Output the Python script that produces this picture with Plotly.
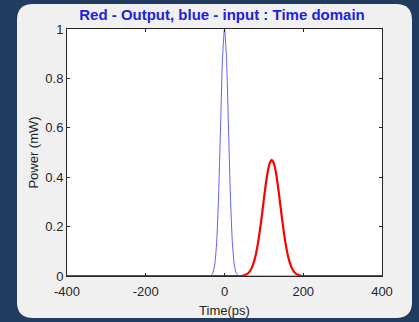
import plotly.graph_objects as go

# Input pulse (blue)
t_in = [-400, -45, -40, -35, -30, -25, -20, -15, -10, -5, 0, 5, 10, 15, 20, 25, 30, 35, 40, 45, 400]
p_in = [0, 0, 0, 0.002, 0.011, 0.044, 0.135, 0.325, 0.607, 0.882, 1.0, 0.882, 0.607, 0.325, 0.135, 0.044, 0.011, 0.002, 0, 0, 0]

# Output pulse (red)
t_out = [-400, 35, 40, 45, 50, 55, 60, 65, 70, 75, 80, 85, 90, 95, 100, 105, 110, 115, 120, 125, 130, 135,
         140, 145, 150, 155, 160, 165, 170, 175, 180, 185, 190, 195, 200, 205, 400]
p_out = [0, 0, 0, 0.001, 0.003, 0.006, 0.011, 0.021, 0.036, 0.058, 0.090, 0.133, 0.186, 0.246, 0.311,
         0.373, 0.424, 0.458, 0.47, 0.458, 0.424, 0.373, 0.311, 0.246, 0.186, 0.133, 0.090, 0.058,
         0.036, 0.021, 0.011, 0.006, 0.003, 0.001, 0, 0, 0]

x_ticks = [-400, -200, 0, 200, 400]
x_ticklabels = ["-400", "-200", "0", "200", "400"]
y_ticks = [0, 0.2, 0.4, 0.6, 0.8, 1]
y_ticklabels = ["0", "0.2", "0.4", "0.6", "0.8", "1"]

W, H = 419, 322
L, R, T, B = 67, 37, 29, 46
pw, ph = W - L - R, H - T - B


def px(x):
    return (x - L) / pw


def py(y):
    return (H - B - y) / ph


# rounded grey panel
x0, x1, y0, y1, r = 17, 412, 4, 318, 16
path = (f"M {px(x0 + r)} {py(y0)} L {px(x1 - r)} {py(y0)} Q {px(x1)} {py(y0)} {px(x1)} {py(y0 + r)} "
        f"L {px(x1)} {py(y1 - r)} Q {px(x1)} {py(y1)} {px(x1 - r)} {py(y1)} "
        f"L {px(x0 + r)} {py(y1)} Q {px(x0)} {py(y1)} {px(x0)} {py(y1 - r)} "
        f"L {px(x0)} {py(y0 + r)} Q {px(x0)} {py(y0)} {px(x0 + r)} {py(y0)} Z")

fig = go.Figure()
fig.add_trace(go.Scatter(x=t_out, y=p_out, mode="lines", line=dict(color="#ff0000", width=2.2, shape="spline", smoothing=0.6),
                         showlegend=False))
fig.add_trace(go.Scatter(x=t_in, y=p_in, mode="lines", line=dict(color="rgba(70,70,235,0.85)", width=1, shape="spline", smoothing=0.6),
                         showlegend=False))

fig.update_layout(
    width=W, height=H,
    margin=dict(l=L, r=R, t=T, b=B, autoexpand=False),
    paper_bgcolor="#213c5e",
    plot_bgcolor="white",
    font=dict(family="Liberation Sans, Arial, sans-serif", size=13, color="#262626"),
    title=dict(text="<b>Red - Output, blue - input : Time domain</b>", xref="container", x=222 / W, xanchor="center",
               y=1 - 15 / H, yanchor="middle", font=dict(size=15, color="#2020e0")),
    shapes=[
        dict(type="path", xref="paper", yref="paper", path=path, fillcolor="#f0f0f0", line=dict(width=0), layer="below"),
        dict(type="rect", xref="paper", yref="paper", x0=0, x1=1, y0=0, y1=1, fillcolor="white",
             line=dict(width=0), layer="below"),
    ],
    xaxis=dict(range=[-400, 400], tickvals=x_ticks, ticktext=x_ticklabels, ticks="inside", ticklen=3, tickcolor="#262626",
               ticklabelstandoff=3, automargin=False,
               showline=True, linecolor="#262626", linewidth=1, mirror="ticks", showgrid=False, zeroline=False,
               title=dict(text="Time(ps)", standoff=8, font=dict(size=13)), tickfont=dict(size=13)),
    yaxis=dict(range=[0, 1], tickvals=y_ticks, ticktext=y_ticklabels, ticks="inside", ticklen=3, tickcolor="#262626",
               automargin=False,
               showline=True, linecolor="#262626", linewidth=1, mirror="ticks", showgrid=False, zeroline=False,
               title=dict(text="Power (mW)", standoff=3, font=dict(size=13)), tickfont=dict(size=13)),
)

fig.write_html("out.html")
